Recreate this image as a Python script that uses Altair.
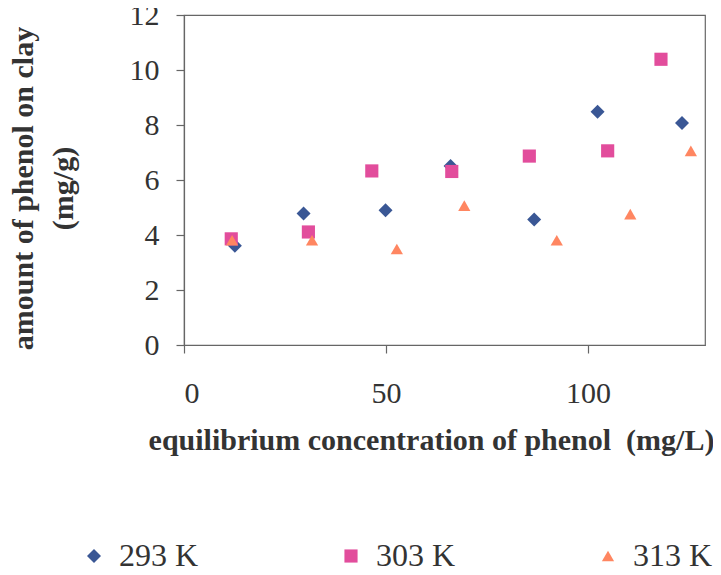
import altair as alt
import pandas as pd

series = ["293 K", "303 K", "313 K"]
colors = ["#3a5795", "#e24d9c", "#ff8661"]
shapes = ["diamond", "square", "triangle-up"]
sizes = [196, 150, 225]

x293 = [12.6, 29.6, 49.9, 66.0, 86.7, 102.4, 123.3]
y293 = [3.61, 4.78, 4.90, 6.51, 4.56, 8.48, 8.07]
x303 = [11.7, 30.8, 46.5, 66.3, 85.5, 104.9, 118.1]
y303 = [3.86, 4.11, 6.33, 6.31, 6.87, 7.06, 10.39]
x313 = [11.9, 31.7, 52.7, 69.4, 92.3, 110.5, 125.5]
y313 = [3.81, 3.81, 3.49, 5.07, 3.81, 4.76, 7.06]

x_ticks = [0, 50, 100]
y_ticks = [0, 2, 4, 6, 8, 10, 12]

rows = []
for name, xs, ys in [(series[0], x293, y293), (series[1], x303, y303), (series[2], x313, y313)]:
    for xv, yv in zip(xs, ys):
        rows.append({"series": name, "x": xv, "y": yv})
df = pd.DataFrame(rows)

FONT = "Liberation Serif"

legend = alt.Legend(
    title=None,
    orient="none",
    direction="horizontal",
    legendX=-106,
    legendY=525,
    symbolSize=120,
    symbolStrokeWidth=0,
    labelFont=FONT,
    labelFontSize=32,
    labelColor="#333333",
    labelOffset=9,
    columnPadding=136,
    gridAlign="all",
    padding=0,
)

chart = alt.Chart(df).mark_point(filled=True, opacity=1).encode(
    x=alt.X(
        "x:Q",
        scale=alt.Scale(domain=[0, 129], nice=False),
        axis=alt.Axis(
            values=x_ticks,
            title="equilibrium concentration of phenol\u00a0\u00a0(mg/L)",
            titleX=247,
            titleY=80,
            labelPadding=25,
        ),
    ),
    y=alt.Y(
        "y:Q",
        scale=alt.Scale(domain=[0, 12], nice=False),
        axis=alt.Axis(
            values=y_ticks,
            title=["amount of phenol on clay", "(mg/g)"],
            titleX=-146,
            titleY=173,
            titleLineHeight=40,
            labelPadding=17,
        ),
    ),
    color=alt.Color("series:N", scale=alt.Scale(domain=series, range=colors), legend=legend),
    shape=alt.Shape("series:N", scale=alt.Scale(domain=series, range=shapes), legend=legend),
    size=alt.Size("series:N", scale=alt.Scale(domain=series, range=sizes), legend=None),
).properties(
    width=521,
    height=330,
    padding={"left": 176, "top": 7, "right": 8, "bottom": 222},
    autosize=alt.AutoSizeParams(type="none"),
    background="white",
).configure_view(
    stroke="#666666",
    strokeWidth=1.2,
).configure_axis(
    grid=False,
    domainColor="#666666",
    domainWidth=1.2,
    tickColor="#666666",
    tickSize=8,
    tickWidth=1.2,
    labelFont=FONT,
    labelFontSize=30,
    labelColor="#333333",
    titleFont=FONT,
    titleFontSize=30,
    titleFontWeight="bold",
    titleColor="#333333",
)

chart.save("out.html", embed_options={"renderer": "svg", "actions": False})
